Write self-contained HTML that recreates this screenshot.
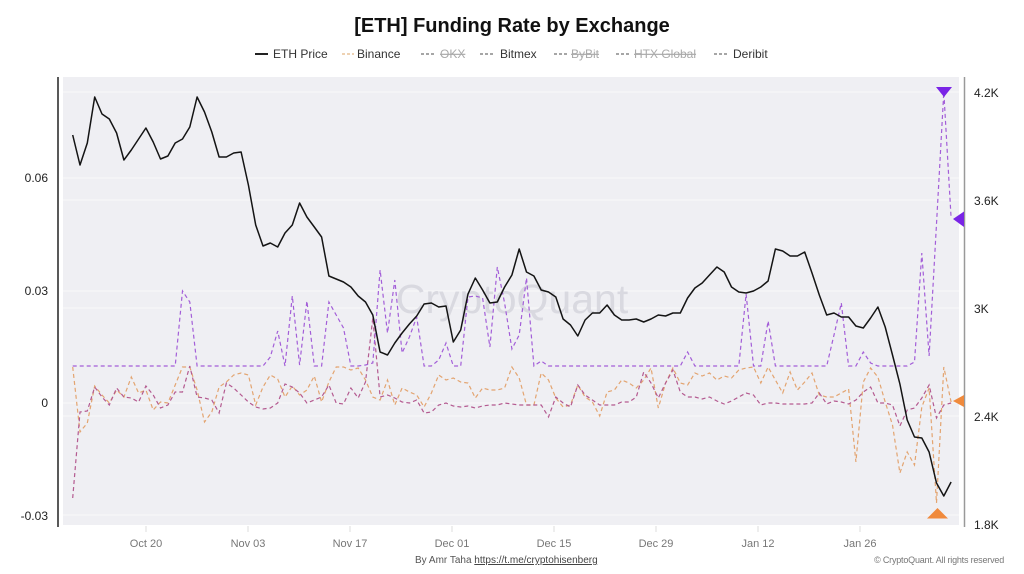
<!DOCTYPE html>
<html>
<head>
<meta charset="utf-8">
<style>
html,body{margin:0;padding:0;background:#fff;}
svg{display:block;font-family:"Liberation Sans",Arial,sans-serif;}
</style>
</head>
<body>
<svg width="1024" height="574" viewBox="0 0 1024 574" xmlns="http://www.w3.org/2000/svg">
<rect x="0" y="0" width="1024" height="574" fill="#ffffff"/>

<!-- Title -->
<text x="512" y="32" text-anchor="middle" font-size="20" font-weight="bold" fill="#111">[ETH] Funding Rate by Exchange</text>

<!-- Legend -->
<g font-size="12">
  <line x1="255" y1="54" x2="268" y2="54" stroke="#222" stroke-width="2"/>
  <text x="273" y="58" fill="#333">ETH Price</text>
  <line x1="342" y1="54" x2="354" y2="54" stroke="#e8c49a" stroke-width="1.5" stroke-dasharray="3,2"/>
  <text x="357" y="58" fill="#333">Binance</text>
  <line x1="421" y1="54" x2="435" y2="54" stroke="#888" stroke-width="1.5" stroke-dasharray="3,2"/>
  <text x="440" y="58" fill="#aaa" text-decoration="line-through">OKX</text>
  <line x1="480" y1="54" x2="495" y2="54" stroke="#888" stroke-width="1.5" stroke-dasharray="3,2"/>
  <text x="500" y="58" fill="#333">Bitmex</text>
  <line x1="554" y1="54" x2="568" y2="54" stroke="#888" stroke-width="1.5" stroke-dasharray="3,2"/>
  <text x="571" y="58" fill="#aaa" text-decoration="line-through">ByBit</text>
  <line x1="616" y1="54" x2="630" y2="54" stroke="#888" stroke-width="1.5" stroke-dasharray="3,2"/>
  <text x="634" y="58" fill="#aaa" text-decoration="line-through">HTX Global</text>
  <line x1="714" y1="54" x2="728" y2="54" stroke="#888" stroke-width="1.5" stroke-dasharray="3,2"/>
  <text x="733" y="58" fill="#333">Deribit</text>
</g>

<!-- Plot background -->
<rect x="63" y="77" width="896" height="448" fill="#efeff3"/>

<!-- Gridlines -->
<g stroke="#f8f8fa" stroke-width="1">
  <line x1="63" y1="178" x2="959" y2="178"/>
  <line x1="63" y1="291" x2="959" y2="291"/>
  <line x1="63" y1="403" x2="959" y2="403"/>
  <line x1="63" y1="515" x2="959" y2="515"/>
  <line x1="63" y1="92" x2="959" y2="92"/>
  <line x1="63" y1="200" x2="959" y2="200"/>
  <line x1="63" y1="308" x2="959" y2="308"/>
  <line x1="63" y1="416" x2="959" y2="416"/>
</g>

<!-- Watermark -->
<text x="512" y="313" text-anchor="middle" font-size="41" fill="#d9d9e0">CryptoQuant</text>

<!-- Axes -->
<line x1="58" y1="77" x2="58" y2="527" stroke="#222" stroke-width="1.5"/>
<line x1="964.5" y1="77" x2="964.5" y2="527" stroke="#999" stroke-width="1.5"/>

<!-- x ticks -->
<g stroke="#dcdcdc" stroke-width="1">
  <line x1="146" y1="526" x2="146" y2="532"/>
  <line x1="248" y1="526" x2="248" y2="532"/>
  <line x1="350" y1="526" x2="350" y2="532"/>
  <line x1="452" y1="526" x2="452" y2="532"/>
  <line x1="554" y1="526" x2="554" y2="532"/>
  <line x1="656" y1="526" x2="656" y2="532"/>
  <line x1="758" y1="526" x2="758" y2="532"/>
  <line x1="860" y1="526" x2="860" y2="532"/>
</g>

<!-- Left y labels -->
<g font-size="12" fill="#222" text-anchor="end">
  <text x="48" y="182">0.06</text>
  <text x="48" y="295">0.03</text>
  <text x="48" y="407">0</text>
  <text x="48" y="520">-0.03</text>
</g>
<!-- Right y labels -->
<g font-size="12" fill="#222">
  <text x="974" y="97">4.2K</text>
  <text x="974" y="205">3.6K</text>
  <text x="974" y="313">3K</text>
  <text x="974" y="421">2.4K</text>
  <text x="974" y="529">1.8K</text>
</g>
<!-- x labels -->
<g font-size="11" fill="#777" text-anchor="middle">
  <text x="146" y="547">Oct 20</text>
  <text x="248" y="547">Nov 03</text>
  <text x="350" y="547">Nov 17</text>
  <text x="452" y="547">Dec 01</text>
  <text x="554" y="547">Dec 15</text>
  <text x="656" y="547">Dec 29</text>
  <text x="758" y="547">Jan 12</text>
  <text x="860" y="547">Jan 26</text>
</g>

<!-- Orange (Binance) -->
<polyline fill="none" stroke="#e3a470" stroke-width="1.2" stroke-dasharray="4,3" points="72.7,367 80.0,432 87.3,423 94.7,386 102.0,395 109.3,403 116.6,390 123.9,397 131.3,377 138.6,393 145.9,390 153.2,410 160.5,402 167.9,403 175.2,385 182.5,367 189.8,367 197.1,390 204.5,422 211.8,412 219.1,387 226.4,382 233.7,375 241.1,373 248.4,375 255.7,405 263.0,387 270.3,375 277.7,379 285.0,397 292.3,386 299.6,395 306.9,390 314.3,376 321.6,402 328.9,382 336.2,367 343.5,367 350.9,370 358.2,368 365.5,380 372.8,397 380.1,400 387.5,380 394.8,405 402.1,388 409.4,392 416.7,395 424.1,407 431.4,393 438.7,375 446.0,380 453.3,378 460.7,382 468.0,383 475.3,398 482.6,388 489.9,390 497.3,390 504.6,388 511.9,367 519.2,378 526.5,405 533.9,405 541.2,373 548.5,380 555.8,398 563.1,407 570.5,405 577.8,385 585.1,397 592.4,402 599.7,416 607.1,392 614.4,390 621.7,380 629.0,383 636.3,388 643.7,380 651.0,368 658.3,408 665.6,383 672.9,368 680.3,383 687.6,385 694.9,373 702.2,376 709.5,373 716.9,380 724.2,376 731.5,378 738.8,370 746.1,368 753.5,367 760.8,383 768.1,367 775.4,380 782.7,393 790.1,372 797.4,390 804.7,382 812.0,373 819.3,395 826.7,397 834.0,397 841.3,393 848.6,389 855.9,462 863.3,382 870.6,368 877.9,377 885.2,402 892.5,425 899.9,473 907.2,452 914.5,465 921.8,407 929.1,388 936.5,503 943.8,367 951.1,402"/>

<!-- Mauve (Bitmex) -->
<polyline fill="none" stroke="#b45a90" stroke-width="1.2" stroke-dasharray="4,3" points="72.7,498 80.0,412 87.3,411 94.7,387 102.0,397 109.3,405 116.6,388 123.9,397 131.3,398 138.6,402 145.9,386 153.2,395 160.5,408 167.9,405 175.2,392 182.5,392 189.8,366 197.1,397 204.5,398 211.8,400 219.1,413 226.4,383 233.7,388 241.1,395 248.4,402 255.7,407 263.0,409 270.3,408 277.7,403 285.0,384 292.3,387 299.6,393 306.9,403 314.3,400 321.6,397 328.9,385 336.2,403 343.5,404 350.9,388 358.2,398 365.5,382 372.8,318 380.1,397 387.5,395 394.8,398 402.1,402 409.4,403 416.7,400 424.1,413 431.4,412 438.7,405 446.0,403 453.3,406 460.7,407 468.0,406 475.3,408 482.6,406 489.9,405 497.3,405 504.6,403 511.9,404 519.2,405 526.5,405 533.9,405 541.2,405 548.5,417 555.8,397 563.1,403 570.5,407 577.8,385 585.1,395 592.4,400 599.7,405 607.1,405 614.4,405 621.7,402 629.0,402 636.3,397 643.7,372 651.0,383 658.3,398 665.6,383 672.9,370 680.3,392 687.6,397 694.9,397 702.2,399 709.5,397 716.9,401 724.2,404 731.5,401 738.8,397 746.1,393 753.5,395 760.8,405 768.1,403 775.4,403 782.7,404 790.1,404 797.4,404 804.7,404 812.0,403 819.3,393 826.7,404 834.0,401 841.3,402 848.6,404 855.9,400 863.3,392 870.6,387 877.9,403 885.2,403 892.5,405 899.9,426 907.2,410 914.5,408 921.8,398 929.1,385 936.5,418 943.8,405 951.1,403"/>

<!-- Violet (Deribit) -->
<polyline fill="none" stroke="#a35ed8" stroke-width="1.2" stroke-dasharray="4,3" points="72.7,366 175.2,366 182.5,291 189.8,302 197.1,366 263.0,366 270.3,357 277.7,331 285.0,366 292.3,296 299.6,365 306.9,301 314.3,366 321.6,366 328.9,302 336.2,315 343.5,328 350.9,366 358.2,366 365.5,365 372.8,363 380.1,270 387.5,333 394.8,280 402.1,353 409.4,337 416.7,317 424.1,366 431.4,366 438.7,360 446.0,343 453.3,366 460.7,366 468.0,297 475.3,296 482.6,298 489.9,347 497.3,267 504.6,303 511.9,349 519.2,335 526.5,278 533.9,366 541.2,361 548.5,366 680.3,366 687.6,352 694.9,366 738.8,366 746.1,294 753.5,366 760.8,366 768.1,321 775.4,366 826.7,366 834.0,335 841.3,303 848.6,366 855.9,366 863.3,352 870.6,363 877.9,366 907.2,366 914.5,362 921.8,253 929.1,356 936.5,224 943.8,92 951.1,218"/>

<!-- ETH Price -->
<polyline fill="none" stroke="#141414" stroke-width="1.5" stroke-linejoin="round" points="72.7,135 80.0,165 87.3,143 94.7,97 102.0,114 109.3,119 116.6,133 123.9,160 131.3,150 138.6,139 145.9,128 153.2,142 160.5,159 167.9,156 175.2,143 182.5,139 189.8,127 197.1,97 204.5,112 211.8,132 219.1,157 226.4,157 233.7,153 241.1,152 248.4,185 255.7,225 263.0,246 270.3,243 277.7,247 285.0,233 292.3,225 299.6,203 306.9,217 314.3,227 321.6,237 328.9,276 336.2,279 343.5,282 350.9,287 358.2,296 365.5,302 372.8,315 380.1,352 387.5,355 394.8,343 402.1,333 409.4,324 416.7,316 424.1,304 431.4,303 438.7,307 446.0,306 453.3,342 460.7,330 468.0,294 475.3,278 482.6,290 489.9,303 497.3,302 504.6,287 511.9,275 519.2,249 526.5,272 533.9,276 541.2,290 548.5,292 555.8,297 563.1,319 570.5,325 577.8,336 585.1,320 592.4,313 599.7,313 607.1,305 614.4,315 621.7,320 629.0,320 636.3,319 643.7,322 651.0,319 658.3,315 665.6,316 672.9,313 680.3,313 687.6,298 694.9,288 702.2,283 709.5,275 716.9,267 724.2,272 731.5,287 738.8,292 746.1,293 753.5,291 760.8,287 768.1,281 775.4,249 782.7,251 790.1,256 797.4,256 804.7,252 812.0,273 819.3,295 826.7,315 834.0,313 841.3,317 848.6,317 855.9,326 863.3,328 870.6,318 877.9,307 885.2,327 892.5,355 899.9,384 907.2,420 914.5,437 921.8,438 929.1,452 936.5,483 943.8,496 951.1,482"/>

<!-- End markers -->
<polygon points="936,87 952,87 944,97" fill="#7a24e6"/>
<polygon points="953,219 964,211.5 964,227" fill="#7a24e6"/>
<polygon points="937.5,508 927,518.5 948,518.5" fill="#f08a3c"/>
<polygon points="953,401 964,395 964,407" fill="#f08a3c"/>

<!-- Footer -->
<text x="415" y="563" font-size="10" fill="#555">By Amr Taha <tspan text-decoration="underline" fill="#444">https://t.me/cryptohisenberg</tspan></text>
<text x="1004" y="563" font-size="9" fill="#777" text-anchor="end" letter-spacing="-0.2">© CryptoQuant. All rights reserved</text>
</svg>
</body>
</html>
